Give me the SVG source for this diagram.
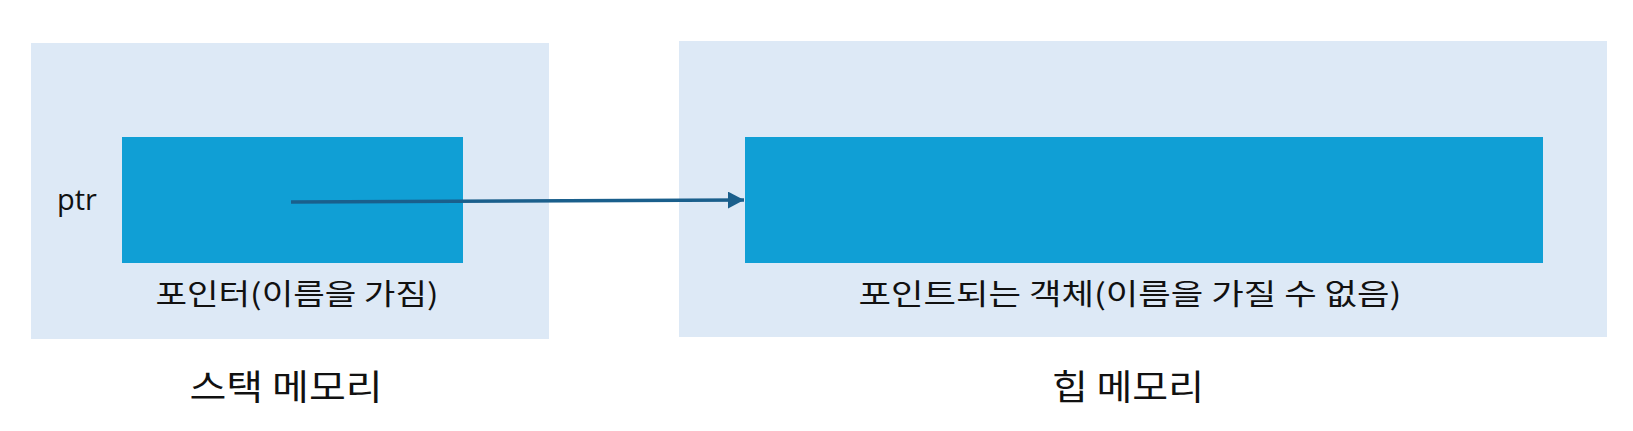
<svg xmlns="http://www.w3.org/2000/svg" width="1633" height="431" viewBox="0 0 1633 431">
  <style>
    .outer { fill: #dde9f6; }
    .inner { fill: #109fd5; }
    .lbl { font-family: "Noto Sans CJK KR", "Noto Sans", sans-serif; fill: #111; text-anchor: middle; }
    .ptr { font-family: "Open Sans", "Noto Sans", sans-serif; font-size: 29px; fill: #111; }
    .conn { stroke: #1a5f8c; stroke-width: 3.5; fill: none; }
  </style>
  <defs>
    <marker id="arrow" markerWidth="16" markerHeight="17" refX="16" refY="8.5" orient="auto" markerUnits="userSpaceOnUse">
      <path d="M0,0 L16,8.5 L0,17 Z" fill="#1a5f8c"/>
    </marker>
  </defs>
  <rect width="1633" height="431" fill="#ffffff"/>
  <g id="stack-memory">
    <rect class="outer" x="31" y="43" width="518" height="296"/>
    <text class="lbl" x="286" y="400" font-size="35" textLength="193" lengthAdjust="spacingAndGlyphs">스택 메모리</text>
  </g>
  <g id="heap-memory">
    <rect class="outer" x="679" y="41" width="928" height="296"/>
    <text class="lbl" x="1128" y="400" font-size="35" textLength="152" lengthAdjust="spacingAndGlyphs">힙 메모리</text>
  </g>
  <g id="pointer">
    <rect class="inner" x="122" y="137" width="341" height="126"/>
    <text class="ptr" x="57" y="210">ptr</text>
    <text class="lbl" x="297" y="305" font-size="29" textLength="283" lengthAdjust="spacingAndGlyphs">포인터(이름을 가짐)</text>
  </g>
  <g id="pointee">
    <rect class="inner" x="745" y="137" width="798" height="126"/>
    <text class="lbl" x="1130" y="305" font-size="29" textLength="543" lengthAdjust="spacingAndGlyphs">포인트되는 객체(이름을 가질 수 없음)</text>
  </g>
  <g id="connectors">
    <path class="conn" d="M291,202 L744,200" marker-end="url(#arrow)"/>
  </g>
</svg>
